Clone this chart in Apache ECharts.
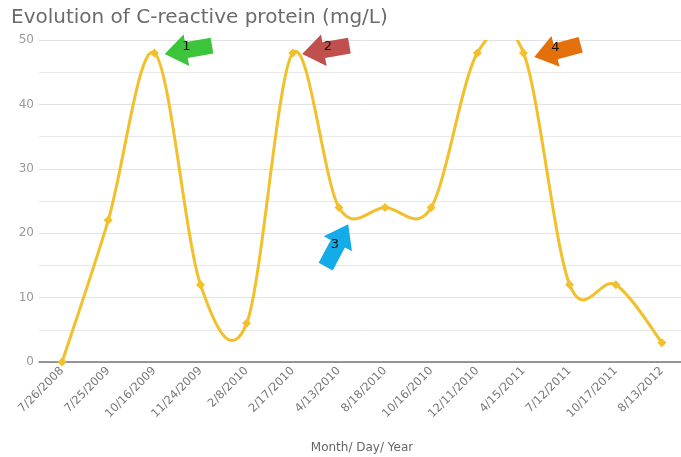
<!DOCTYPE html>
<html>
<head>
<meta charset="utf-8">
<script src="https://cdn.jsdelivr.net/npm/echarts@6/dist/echarts.min.js"></script>
<style>html,body{margin:0;padding:0;background:#fff}#c{width:681px;height:457px}</style>
</head>
<body>
<div id="c"></div>
<script>
const titleText = 'Evolution of C-reactive protein (mg/L)';
const xAxisName = 'Month/ Day/ Year';
const categories = ['7/26/2008','7/25/2009','10/16/2009','11/24/2009','2/8/2010','2/17/2010','4/13/2010','8/18/2010','10/16/2010','12/11/2010','4/15/2011','7/12/2011','10/17/2011','8/13/2012'];
const crpValues = [0, 22, 48, 12, 6, 48, 24, 24, 24, 48, 48, 12, 12, 3];
const arrowLabels = ['1', '2', '3', '4'];
const arrowTargets = [2, 5, 6, 10];

const lineColor = '#f1c02b';
const arrowPath = 'path://M0,16 L22,0 L22,8 L48,8 L48,24 L22,24 L22,32 Z';
const arrowStyles = [
  {color: '#3cc43a', rotate: 10, offset: [34, -3], labelOffset: [32, -6]},
  {color: '#c0504d', rotate: 10, offset: [33, -3], labelOffset: [35, -6]},
  {color: '#14ace8', rotate: -118, offset: [-2, 38], labelOffset: [-4, 37]},
  {color: '#e4700c', rotate: 15, offset: [34, -2], labelOffset: [32, -5]}
];

const markData = [];
arrowTargets.forEach((idx, i) => {
  const s = arrowStyles[i];
  markData.push({
    coord: [idx, crpValues[idx]],
    symbol: arrowPath,
    symbolSize: [48, 32],
    symbolRotate: s.rotate,
    symbolOffset: s.offset,
    itemStyle: {color: s.color},
    label: {show: false}
  });
  markData.push({
    coord: [idx, crpValues[idx]],
    symbol: 'circle',
    symbolSize: 1,
    symbolOffset: s.labelOffset,
    itemStyle: {color: 'rgba(0,0,0,0)'},
    label: {show: true, position: 'inside', formatter: arrowLabels[i], color: '#111', fontSize: 13, fontFamily: 'DejaVu Sans'}
  });
});

// Catmull-Rom curve through the data points, computed in pixel space from the axes
function renderCurve(params, api) {
  if (params.dataIndex !== 0) return null;
  const pts = crpValues.map((v, i) => api.coord([i, v]));
  const n = pts.length;
  let d = 'M' + pts[0][0] + ',' + pts[0][1];
  for (let i = 0; i < n - 1; i++) {
    const p0 = pts[Math.max(i - 1, 0)], p1 = pts[i], p2 = pts[i + 1], p3 = pts[Math.min(i + 2, n - 1)];
    const c1x = p1[0] + (p2[0] - p0[0]) / 6, c1y = p1[1] + (p2[1] - p0[1]) / 6;
    const c2x = p2[0] - (p3[0] - p1[0]) / 6, c2y = p2[1] - (p3[1] - p1[1]) / 6;
    d += ' C' + c1x + ',' + c1y + ' ' + c2x + ',' + c2y + ' ' + p2[0] + ',' + p2[1];
  }
  const cs = params.coordSys;
  return {
    type: 'group',
    clipPath: {type: 'rect', shape: {x: cs.x, y: cs.y, width: cs.width, height: cs.height}},
    children: [{
      type: 'path',
      shape: {pathData: d},
      style: {fill: 'none', stroke: lineColor, lineWidth: 3, lineJoin: 'round', lineCap: 'round'}
    }]
  };
}

const chart = echarts.init(document.getElementById('c'), null, {renderer: 'canvas'});
chart.setOption({
  animation: false,
  backgroundColor: '#fff',
  title: {
    text: titleText, left: 6, top: 3,
    textStyle: {fontFamily: 'DejaVu Sans', fontSize: 20, fontWeight: 'normal', color: '#6b6b6b'}
  },
  grid: {left: 39, right: -4, top: 40, bottom: 95, containLabel: false, outerBoundsMode: 'none'},
  xAxis: {
    type: 'category', data: categories, boundaryGap: true,
    name: xAxisName, nameLocation: 'middle', nameGap: 80,
    nameTextStyle: {fontFamily: 'DejaVu Sans', fontSize: 12, color: '#666'},
    axisLine: {lineStyle: {color: '#777', width: 1.5}},
    axisTick: {show: false},
    axisLabel: {rotate: 45, interval: 0, fontFamily: 'DejaVu Sans', fontSize: 11.5, color: '#777', margin: 7}
  },
  yAxis: {
    type: 'value', min: 0, max: 50, interval: 10,
    axisLine: {show: false}, axisTick: {show: false},
    axisLabel: {fontFamily: 'DejaVu Sans', fontSize: 12, color: '#999', margin: 5},
    splitLine: {lineStyle: {color: '#e2e2e2'}},
    minorTick: {show: false, splitNumber: 2},
    minorSplitLine: {show: true, lineStyle: {color: '#e8e8e8'}}
  },
  series: [{
    type: 'custom', renderItem: renderCurve, z: 2,
    data: crpValues.map((v, i) => [i, v]),
    silent: true
  }, {
    type: 'line', data: crpValues, smooth: false, z: 3,
    symbol: 'diamond', symbolSize: 9, showSymbol: true,
    lineStyle: {color: lineColor, width: 0, opacity: 0},
    itemStyle: {color: lineColor},
    clip: true,
    markPoint: {silent: true, data: markData}
  }]
});
</script>
</body>
</html>
